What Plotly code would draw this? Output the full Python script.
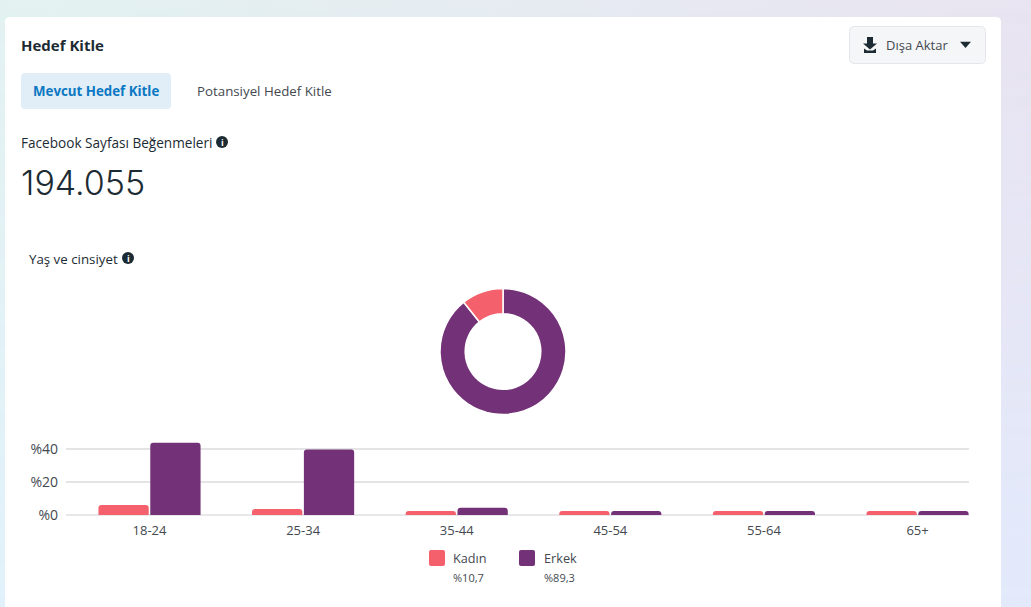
import base64
import plotly.graph_objects as go

W, H = 1031, 607

# ---- data ----
age_groups = ["18-24", "25-34", "35-44", "45-54", "55-64", "65+"]
kadin_values = [6.0, 3.6, 2.4, 2.4, 2.4, 2.4]
erkek_values = [43.5, 39.4, 4.3, 2.4, 2.4, 2.4]
donut_labels = ["Erkek", "Kadın"]
donut_values = [89.3, 10.7]
y_tick_values = [0, 20, 40]
y_tick_labels = ["%0", "%20", "%40"]
PINK = "#f4606c"
PURPLE = "#733177"
FONT = "Open Sans"
DARK = "#1c2b33"
GREY = "#444950"


def px(x):
    return x / W


def py(y):
    return 1 - y / H


def rrect(x0, y0, x1, y1, r):
    pts = [
        f"M{px(x0 + r)},{py(y0)}", f"L{px(x1 - r)},{py(y0)}",
        f"Q{px(x1)},{py(y0)} {px(x1)},{py(y0 + r)}", f"L{px(x1)},{py(y1 - r)}",
        f"Q{px(x1)},{py(y1)} {px(x1 - r)},{py(y1)}", f"L{px(x0 + r)},{py(y1)}",
        f"Q{px(x0)},{py(y1)} {px(x0)},{py(y1 - r)}", f"L{px(x0)},{py(y0 + r)}",
        f"Q{px(x0)},{py(y0)} {px(x0 + r)},{py(y0)}", "Z",
    ]
    return " ".join(pts)


def poly(points):
    return "M" + " L".join(f"{px(a)},{py(b)}" for a, b in points) + " Z"


def box(path, fill, line=None, lw=1, layer="below"):
    return dict(type="path", xref="paper", yref="paper", path=path, fillcolor=fill,
                line=dict(color=line or "rgba(0,0,0,0)", width=lw if line else 0), layer=layer)


def label(x, y, text, size=13, color=GREY, weight=400, anchor="left", font=FONT):
    return dict(x=px(x), y=py(y), xref="paper", yref="paper", text=text, showarrow=False,
                xanchor=anchor, yanchor="middle", borderpad=0,
                font=dict(family=font, size=size, color=color, weight=weight))


svg = f'''<svg xmlns="http://www.w3.org/2000/svg" width="{W}" height="{H}">
<defs>
<linearGradient id="t" x1="0" x2="1" y1="0" y2="0"><stop offset="0" stop-color="#e3f2f1"/><stop offset="1" stop-color="#e9e4f1"/></linearGradient>
<linearGradient id="b" x1="0" x2="1" y1="0" y2="0"><stop offset="0" stop-color="#e1f1fb"/><stop offset="1" stop-color="#e2e9fb"/></linearGradient>
<linearGradient id="v" x1="0" x2="0" y1="0" y2="1"><stop offset="0" stop-color="#000"/><stop offset="1" stop-color="#fff"/></linearGradient>
<mask id="m"><rect width="{W}" height="{H}" fill="url(#v)"/></mask>
</defs>
<rect width="{W}" height="{H}" fill="url(#t)"/>
<rect width="{W}" height="{H}" fill="url(#b)" mask="url(#m)"/>
</svg>'''
bg_uri = "data:image/svg+xml;base64," + base64.b64encode(svg.encode()).decode()

fig = go.Figure()
fig.add_trace(go.Bar(name="Kadın", x=age_groups, y=kadin_values, marker=dict(color=PINK, line=dict(width=0))))
fig.add_trace(go.Bar(name="Erkek", x=age_groups, y=erkek_values, marker=dict(color=PURPLE, line=dict(width=0))))
fig.add_trace(go.Pie(
    labels=donut_labels, values=donut_values, hole=0.6, sort=False, direction="clockwise",
    rotation=0, textinfo="none", marker=dict(colors=[PURPLE, PINK], line=dict(color="white", width=1.5)),
    domain=dict(x=[px(440), px(566)], y=[py(414.5), py(288.5)]),
))

shapes = [
    box(rrect(5, 17, 1001, 640, 5), "#ffffff"),
    box(rrect(21, 73, 171, 109, 4), "#e1edf7"),
    box(rrect(849.5, 26.5, 985.5, 63.5, 5), "#f5f6f8", "#e4e6eb", 1),
    box(poly([(867, 37), (873, 37), (873, 43.5), (877, 43.5), (870, 49.5), (863, 43.5), (867, 43.5)]), DARK),
    box(poly([(864, 48.5), (867, 50.5), (873, 50.5), (876, 48.5), (876, 53), (864, 53)]), DARK),
    box(poly([(960, 41.8), (971, 41.8), (965.5, 48)]), DARK),
    box(rrect(429, 550, 445, 566, 2), PINK),
    box(rrect(519, 550, 535, 566, 2), PURPLE),
    dict(type="circle", xref="paper", yref="paper", x0=px(216), x1=px(228), y0=py(148), y1=py(136),
         fillcolor=DARK, line=dict(width=0), layer="below"),
    dict(type="circle", xref="paper", yref="paper", x0=px(122), x1=px(134), y0=py(264), y1=py(252),
         fillcolor=DARK, line=dict(width=0), layer="below"),
]

annotations = [
    label(20, 45.5, "Hedef Kitle", 15, DARK, 700),
    label(32, 91, "Mevcut Hedef Kitle", 13.3, "#0a78c2", 700),
    label(196, 91, "Potansiyel Hedef Kitle", 13.3, GREY),
    label(20, 143, "Facebook Sayfası Beğenmeleri", 13.6, DARK),
    label(222, 142, "i", 9, "#ffffff", 700, "center"),
    label(20, 182, "194.055", 34, DARK, 300, font="Inter"),
    label(28, 259, "Yaş ve cinsiyet", 13.3, DARK),
    label(128, 258, "i", 9, "#ffffff", 700, "center"),
    label(885, 45.5, "Dışa Aktar", 13, GREY),
    label(452, 558, "Kadın", 12.7, GREY),
    label(543, 558, "Erkek", 12.7, GREY),
    label(452, 577, "%10,7", 11, GREY),
    label(543, 577, "%89,3", 11, GREY),
]

fig.update_layout(
    width=W, height=H, margin=dict(l=0, r=0, t=0, b=0, autoexpand=False),
    paper_bgcolor="#ffffff", plot_bgcolor="rgba(0,0,0,0)",
    showlegend=False, barmode="group", bargap=0.325, bargroupgap=0.03, barcornerradius=3,
    font=dict(family=FONT, size=13, color=GREY),
    images=[dict(source=bg_uri, xref="paper", yref="paper", x=0, y=1, sizex=1, sizey=1,
                 sizing="stretch", xanchor="left", yanchor="top", layer="below")],
    shapes=shapes, annotations=annotations,
    xaxis=dict(domain=[px(66), px(969)], range=[-0.5436, 5.335], showgrid=False, showline=False,
               zeroline=False, tickfont=dict(size=13, color=GREY), ticks="", ticklabelstandoff=6),
    yaxis=dict(domain=[py(515), py(440.3)], range=[0, 45], tickvals=y_tick_values, ticktext=y_tick_labels,
               gridcolor="#e4e4e6", gridwidth=1.5, zeroline=True, zerolinecolor="#e8e8ea", zerolinewidth=2,
               showline=False, ticks="", tickfont=dict(size=14, color=GREY), ticklabelstandoff=7),
)

fig.write_html("out.html", config=dict(displayModeBar=False),
               post_script="document.body.style.margin='0';document.body.style.overflow='hidden';")
